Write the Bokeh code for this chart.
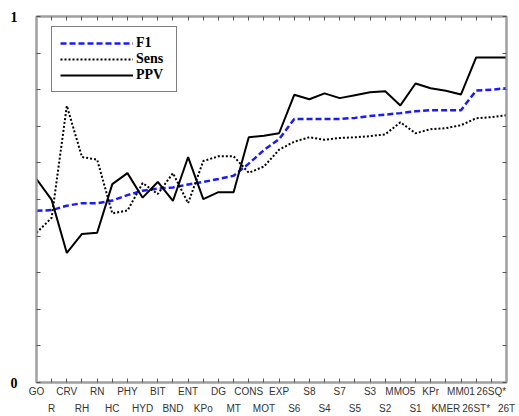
from bokeh.plotting import figure
from bokeh.models import Range1d, LinearAxis, FixedTicker, Legend, LegendItem
from bokeh.embed import file_html
from bokeh.resources import INLINE

categories = ["GO", "R", "CRV", "RH", "RN", "HC", "PHY", "HYD", "BIT", "BND", "ENT", "KPo",
              "DG", "MT", "CONS", "MOT", "EXP", "S6", "S8", "S4", "S7", "S5", "S3", "S2",
              "MMO5", "S1", "KPr", "KMER", "MM01", "26ST*", "26SQ*", "26T"]

f1 = [0.469, 0.471, 0.483, 0.490, 0.490, 0.497, 0.512, 0.524, 0.530, 0.533, 0.541, 0.548,
      0.556, 0.565, 0.598, 0.635, 0.665, 0.720, 0.720, 0.720, 0.720, 0.723, 0.728, 0.732,
      0.736, 0.741, 0.744, 0.744, 0.744, 0.798, 0.800, 0.804]

sens = [0.409, 0.450, 0.756, 0.616, 0.609, 0.462, 0.470, 0.545, 0.515, 0.572, 0.490, 0.605,
        0.618, 0.618, 0.573, 0.590, 0.636, 0.658, 0.670, 0.663, 0.668, 0.670, 0.673, 0.678,
        0.711, 0.681, 0.692, 0.695, 0.703, 0.722, 0.725, 0.730]

ppv = [0.556, 0.499, 0.354, 0.406, 0.409, 0.542, 0.572, 0.505, 0.548, 0.496, 0.616, 0.501,
       0.520, 0.520, 0.670, 0.674, 0.681, 0.786, 0.774, 0.790, 0.777, 0.785, 0.793, 0.796,
       0.757, 0.817, 0.804, 0.797, 0.787, 0.888, 0.888, 0.888]

y_tenths = [0.1, 0.2, 0.3, 0.4, 0.5, 0.6, 0.7, 0.8, 0.9]

x = list(range(len(categories)))
even_idx = x[0::2]
odd_idx = x[1::2]

FRAME = "#a0a0a0"
TICKC = "#555555"

p = figure(width=519, height=416, x_range=Range1d(0, len(categories) - 1), y_range=Range1d(0, 1),
           output_backend="svg", toolbar_location=None,
           x_axis_location=None, y_axis_location=None,
           min_border_left=36, min_border_right=13, min_border_top=16, min_border_bottom=0)
p.grid.visible = False
p.outline_line_color = FRAME
p.outline_line_width = 2
p.background_fill_color = "white"

def common(ax):
    ax.axis_line_color = FRAME
    ax.axis_line_width = 2
    ax.major_tick_in = 4
    ax.major_tick_out = 0
    ax.minor_tick_in = 4
    ax.minor_tick_out = 0
    ax.major_tick_line_color = TICKC
    ax.minor_tick_line_color = TICKC

left = LinearAxis(ticker=FixedTicker(ticks=[0, 1], minor_ticks=y_tenths))
common(left)
left.major_label_standoff = 19
left.major_label_text_font = "Liberation Serif"
left.major_label_text_font_style = "bold"
left.major_label_text_font_size = "14px"
left.major_label_text_color = "black"
p.add_layout(left, "left")

right = LinearAxis(ticker=FixedTicker(ticks=[0, 1], minor_ticks=y_tenths))
common(right)
right.major_label_text_font_size = "8px"
right.major_label_text_color = None
right.major_label_standoff = 0
p.add_layout(right, "right")

top = LinearAxis(ticker=FixedTicker(ticks=x, minor_ticks=[]))
common(top)
top.major_label_text_font_size = "8px"
top.major_label_text_color = None
top.major_label_standoff = 0
p.add_layout(top, "above")

b1 = LinearAxis(ticker=FixedTicker(ticks=even_idx, minor_ticks=odd_idx),
                major_label_overrides={i: categories[i] for i in even_idx})
common(b1)
b1.major_label_standoff = 3
b1.major_label_text_font = "Liberation Sans"
b1.major_label_text_font_size = "10px"
b1.major_label_text_color = "#333333"
p.add_layout(b1, "below")

b2 = LinearAxis(ticker=FixedTicker(ticks=odd_idx, minor_ticks=[]),
                major_label_overrides={i: categories[i] for i in odd_idx})
b2.axis_line_color = None
b2.major_tick_line_color = None
b2.minor_tick_line_color = None
b2.major_tick_in = 0
b2.major_tick_out = 0
b2.major_label_standoff = 3
b2.major_label_text_font = "Liberation Sans"
b2.major_label_text_font_size = "10px"
b2.major_label_text_color = "#333333"
p.add_layout(b2, "below")

r_f1 = p.line(x, f1, line_color="#1a1aff", line_width=2.5, line_dash="6 3")
r_sens = p.line(x, sens, line_color="black", line_width=2, line_dash="2 2")
r_ppv = p.line(x, ppv, line_color="black", line_width=2)

legend = Legend(items=[LegendItem(label="F1", renderers=[r_f1]),
                       LegendItem(label="Sens", renderers=[r_sens]),
                       LegendItem(label="PPV", renderers=[r_ppv])],
                location=(15, 290), glyph_width=73, glyph_height=14, label_height=14,
                label_width=32, spacing=0, padding=8, label_standoff=3, margin=0,
                label_text_font="Liberation Serif", label_text_font_style="bold",
                label_text_font_size="14px", label_text_color="black",
                border_line_color="black", border_line_width=1,
                background_fill_color="white", background_fill_alpha=1)
p.add_layout(legend)

open("out.html", "w").write(file_html(p, INLINE))
